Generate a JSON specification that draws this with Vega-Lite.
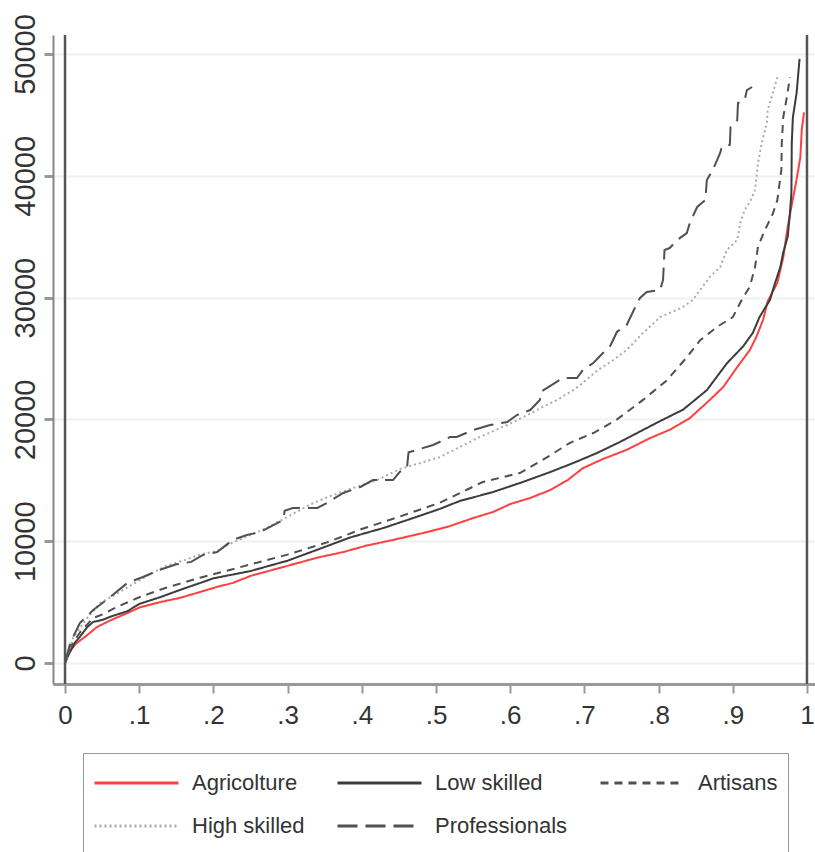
{
  "$schema": "https://vega.github.io/schema/vega-lite/v6.json",
  "autosize": {"type": "none"},
  "padding": {"left": 53, "top": 35, "right": 0, "bottom": 168},
  "width": 762,
  "height": 649,
  "background": "white",
  "config": {
    "view": {"stroke": null},
    "font": "Liberation Sans"
  },
  "datasets": {
    "curves": [
      {"series": "Agricolture", "q": 0, "wage": 0},
      {"series": "Agricolture", "q": 0.004, "wage": 800},
      {"series": "Agricolture", "q": 0.015, "wage": 1600},
      {"series": "Agricolture", "q": 0.03, "wage": 2300},
      {"series": "Agricolture", "q": 0.043, "wage": 2950},
      {"series": "Agricolture", "q": 0.061, "wage": 3500},
      {"series": "Agricolture", "q": 0.084, "wage": 4100},
      {"series": "Agricolture", "q": 0.1, "wage": 4550},
      {"series": "Agricolture", "q": 0.128, "wage": 5000},
      {"series": "Agricolture", "q": 0.155, "wage": 5350},
      {"series": "Agricolture", "q": 0.182, "wage": 5830},
      {"series": "Agricolture", "q": 0.205, "wage": 6250},
      {"series": "Agricolture", "q": 0.226, "wage": 6570},
      {"series": "Agricolture", "q": 0.25, "wage": 7150},
      {"series": "Agricolture", "q": 0.294, "wage": 7880},
      {"series": "Agricolture", "q": 0.34, "wage": 8650},
      {"series": "Agricolture", "q": 0.375, "wage": 9110},
      {"series": "Agricolture", "q": 0.407, "wage": 9650},
      {"series": "Agricolture", "q": 0.442, "wage": 10100},
      {"series": "Agricolture", "q": 0.488, "wage": 10750},
      {"series": "Agricolture", "q": 0.515, "wage": 11170},
      {"series": "Agricolture", "q": 0.55, "wage": 11900},
      {"series": "Agricolture", "q": 0.577, "wage": 12400},
      {"series": "Agricolture", "q": 0.6, "wage": 13050},
      {"series": "Agricolture", "q": 0.627, "wage": 13550},
      {"series": "Agricolture", "q": 0.654, "wage": 14200},
      {"series": "Agricolture", "q": 0.677, "wage": 15000},
      {"series": "Agricolture", "q": 0.698, "wage": 16000},
      {"series": "Agricolture", "q": 0.725, "wage": 16750},
      {"series": "Agricolture", "q": 0.757, "wage": 17500},
      {"series": "Agricolture", "q": 0.788, "wage": 18450},
      {"series": "Agricolture", "q": 0.815, "wage": 19150},
      {"series": "Agricolture", "q": 0.842, "wage": 20100},
      {"series": "Agricolture", "q": 0.869, "wage": 21600},
      {"series": "Agricolture", "q": 0.887, "wage": 22650},
      {"series": "Agricolture", "q": 0.906, "wage": 24300},
      {"series": "Agricolture", "q": 0.923, "wage": 25700},
      {"series": "Agricolture", "q": 0.932, "wage": 26800},
      {"series": "Agricolture", "q": 0.941, "wage": 28200},
      {"series": "Agricolture", "q": 0.947, "wage": 29700},
      {"series": "Agricolture", "q": 0.96, "wage": 31200},
      {"series": "Agricolture", "q": 0.968, "wage": 33300},
      {"series": "Agricolture", "q": 0.974, "wage": 35800},
      {"series": "Agricolture", "q": 0.98, "wage": 37800},
      {"series": "Agricolture", "q": 0.986, "wage": 39700},
      {"series": "Agricolture", "q": 0.991, "wage": 41500},
      {"series": "Agricolture", "q": 0.993, "wage": 43800},
      {"series": "Agricolture", "q": 0.996, "wage": 45200},

      {"series": "Low skilled", "q": 0, "wage": 0},
      {"series": "Low skilled", "q": 0.005, "wage": 700},
      {"series": "Low skilled", "q": 0.013, "wage": 1650},
      {"series": "Low skilled", "q": 0.02, "wage": 2150},
      {"series": "Low skilled", "q": 0.03, "wage": 2950},
      {"series": "Low skilled", "q": 0.038, "wage": 3370},
      {"series": "Low skilled", "q": 0.051, "wage": 3550},
      {"series": "Low skilled", "q": 0.061, "wage": 3800},
      {"series": "Low skilled", "q": 0.084, "wage": 4250},
      {"series": "Low skilled", "q": 0.1, "wage": 4850},
      {"series": "Low skilled", "q": 0.128, "wage": 5400},
      {"series": "Low skilled", "q": 0.155, "wage": 6000},
      {"series": "Low skilled", "q": 0.2, "wage": 6950},
      {"series": "Low skilled", "q": 0.25, "wage": 7550},
      {"series": "Low skilled", "q": 0.3, "wage": 8400},
      {"series": "Low skilled", "q": 0.34, "wage": 9300},
      {"series": "Low skilled", "q": 0.384, "wage": 10300},
      {"series": "Low skilled", "q": 0.43, "wage": 11100},
      {"series": "Low skilled", "q": 0.474, "wage": 12000},
      {"series": "Low skilled", "q": 0.505, "wage": 12650},
      {"series": "Low skilled", "q": 0.532, "wage": 13300},
      {"series": "Low skilled", "q": 0.577, "wage": 14040},
      {"series": "Low skilled", "q": 0.617, "wage": 14860},
      {"series": "Low skilled", "q": 0.654, "wage": 15680},
      {"series": "Low skilled", "q": 0.685, "wage": 16420},
      {"series": "Low skilled", "q": 0.717, "wage": 17240},
      {"series": "Low skilled", "q": 0.748, "wage": 18150},
      {"series": "Low skilled", "q": 0.771, "wage": 18880},
      {"series": "Low skilled", "q": 0.8, "wage": 19800},
      {"series": "Low skilled", "q": 0.833, "wage": 20800},
      {"series": "Low skilled", "q": 0.865, "wage": 22400},
      {"series": "Low skilled", "q": 0.892, "wage": 24600},
      {"series": "Low skilled", "q": 0.914, "wage": 26000},
      {"series": "Low skilled", "q": 0.927, "wage": 27100},
      {"series": "Low skilled", "q": 0.936, "wage": 28400},
      {"series": "Low skilled", "q": 0.95, "wage": 29800},
      {"series": "Low skilled", "q": 0.957, "wage": 31200},
      {"series": "Low skilled", "q": 0.964, "wage": 32500},
      {"series": "Low skilled", "q": 0.968, "wage": 33700},
      {"series": "Low skilled", "q": 0.974, "wage": 35000},
      {"series": "Low skilled", "q": 0.977, "wage": 36900},
      {"series": "Low skilled", "q": 0.979, "wage": 38600},
      {"series": "Low skilled", "q": 0.9795, "wage": 42700},
      {"series": "Low skilled", "q": 0.981, "wage": 44800},
      {"series": "Low skilled", "q": 0.986, "wage": 46800},
      {"series": "Low skilled", "q": 0.99, "wage": 49600},

      {"series": "Artisans", "q": 0, "wage": 0},
      {"series": "Artisans", "q": 0.007, "wage": 1300},
      {"series": "Artisans", "q": 0.02, "wage": 2500},
      {"series": "Artisans", "q": 0.038, "wage": 3700},
      {"series": "Artisans", "q": 0.051, "wage": 4000},
      {"series": "Artisans", "q": 0.07, "wage": 4600},
      {"series": "Artisans", "q": 0.1, "wage": 5400},
      {"series": "Artisans", "q": 0.137, "wage": 6200},
      {"series": "Artisans", "q": 0.182, "wage": 7000},
      {"series": "Artisans", "q": 0.226, "wage": 7700},
      {"series": "Artisans", "q": 0.25, "wage": 8100},
      {"series": "Artisans", "q": 0.3, "wage": 8900},
      {"series": "Artisans", "q": 0.353, "wage": 9900},
      {"series": "Artisans", "q": 0.4, "wage": 11000},
      {"series": "Artisans", "q": 0.45, "wage": 12000},
      {"series": "Artisans", "q": 0.505, "wage": 13150},
      {"series": "Artisans", "q": 0.563, "wage": 14860},
      {"series": "Artisans", "q": 0.613, "wage": 15600},
      {"series": "Artisans", "q": 0.65, "wage": 16900},
      {"series": "Artisans", "q": 0.68, "wage": 18060},
      {"series": "Artisans", "q": 0.712, "wage": 18880},
      {"series": "Artisans", "q": 0.744, "wage": 20000},
      {"series": "Artisans", "q": 0.779, "wage": 21600},
      {"series": "Artisans", "q": 0.811, "wage": 23200},
      {"series": "Artisans", "q": 0.838, "wage": 25100},
      {"series": "Artisans", "q": 0.856, "wage": 26500},
      {"series": "Artisans", "q": 0.879, "wage": 27600},
      {"series": "Artisans", "q": 0.9, "wage": 28400},
      {"series": "Artisans", "q": 0.912, "wage": 29800},
      {"series": "Artisans", "q": 0.923, "wage": 30900},
      {"series": "Artisans", "q": 0.93, "wage": 32500},
      {"series": "Artisans", "q": 0.934, "wage": 34200},
      {"series": "Artisans", "q": 0.943, "wage": 35500},
      {"series": "Artisans", "q": 0.954, "wage": 36900},
      {"series": "Artisans", "q": 0.96, "wage": 38000},
      {"series": "Artisans", "q": 0.9655, "wage": 40500},
      {"series": "Artisans", "q": 0.966, "wage": 42700},
      {"series": "Artisans", "q": 0.968, "wage": 44800},
      {"series": "Artisans", "q": 0.973, "wage": 46500},
      {"series": "Artisans", "q": 0.977, "wage": 48100},

      {"series": "High skilled", "q": 0, "wage": 0},
      {"series": "High skilled", "q": 0.011, "wage": 2100},
      {"series": "High skilled", "q": 0.03, "wage": 3700},
      {"series": "High skilled", "q": 0.047, "wage": 4900},
      {"series": "High skilled", "q": 0.07, "wage": 5700},
      {"series": "High skilled", "q": 0.092, "wage": 6500},
      {"series": "High skilled", "q": 0.115, "wage": 7300},
      {"series": "High skilled", "q": 0.137, "wage": 8000},
      {"series": "High skilled", "q": 0.159, "wage": 8400},
      {"series": "High skilled", "q": 0.182, "wage": 8900},
      {"series": "High skilled", "q": 0.205, "wage": 9200},
      {"series": "High skilled", "q": 0.226, "wage": 9900},
      {"series": "High skilled", "q": 0.25, "wage": 10500},
      {"series": "High skilled", "q": 0.272, "wage": 11100},
      {"series": "High skilled", "q": 0.294, "wage": 11800},
      {"series": "High skilled", "q": 0.33, "wage": 13000},
      {"series": "High skilled", "q": 0.353, "wage": 13600},
      {"series": "High skilled", "q": 0.38, "wage": 14200},
      {"series": "High skilled", "q": 0.42, "wage": 15000},
      {"series": "High skilled", "q": 0.45, "wage": 15900},
      {"series": "High skilled", "q": 0.47, "wage": 16260},
      {"series": "High skilled", "q": 0.505, "wage": 16900},
      {"series": "High skilled", "q": 0.532, "wage": 17730},
      {"series": "High skilled", "q": 0.559, "wage": 18560},
      {"series": "High skilled", "q": 0.596, "wage": 19540},
      {"series": "High skilled", "q": 0.623, "wage": 20360},
      {"series": "High skilled", "q": 0.644, "wage": 21020},
      {"series": "High skilled", "q": 0.663, "wage": 21590},
      {"series": "High skilled", "q": 0.685, "wage": 22410},
      {"series": "High skilled", "q": 0.698, "wage": 23000},
      {"series": "High skilled", "q": 0.717, "wage": 24000},
      {"series": "High skilled", "q": 0.739, "wage": 24880},
      {"series": "High skilled", "q": 0.757, "wage": 25700},
      {"series": "High skilled", "q": 0.779, "wage": 27090},
      {"series": "High skilled", "q": 0.802, "wage": 28400},
      {"series": "High skilled", "q": 0.833, "wage": 29230},
      {"series": "High skilled", "q": 0.846, "wage": 29800},
      {"series": "High skilled", "q": 0.856, "wage": 30620},
      {"series": "High skilled", "q": 0.869, "wage": 31690},
      {"series": "High skilled", "q": 0.883, "wage": 32510},
      {"series": "High skilled", "q": 0.892, "wage": 33910},
      {"series": "High skilled", "q": 0.906, "wage": 34730},
      {"series": "High skilled", "q": 0.91, "wage": 36120},
      {"series": "High skilled", "q": 0.916, "wage": 37190},
      {"series": "High skilled", "q": 0.923, "wage": 37850},
      {"series": "High skilled", "q": 0.93, "wage": 38830},
      {"series": "High skilled", "q": 0.934, "wage": 41050},
      {"series": "High skilled", "q": 0.939, "wage": 42690},
      {"series": "High skilled", "q": 0.946, "wage": 44330},
      {"series": "High skilled", "q": 0.947, "wage": 45400},
      {"series": "High skilled", "q": 0.954, "wage": 46800},
      {"series": "High skilled", "q": 0.961, "wage": 48270},

      {"series": "Professionals", "q": 0, "wage": 0},
      {"series": "Professionals", "q": 0.007, "wage": 1640},
      {"series": "Professionals", "q": 0.02, "wage": 3280},
      {"series": "Professionals", "q": 0.038, "wage": 4350},
      {"series": "Professionals", "q": 0.061, "wage": 5420},
      {"series": "Professionals", "q": 0.084, "wage": 6570},
      {"series": "Professionals", "q": 0.105, "wage": 7060},
      {"series": "Professionals", "q": 0.13, "wage": 7700},
      {"series": "Professionals", "q": 0.15, "wage": 8100},
      {"series": "Professionals", "q": 0.17, "wage": 8300},
      {"series": "Professionals", "q": 0.186, "wage": 8870},
      {"series": "Professionals", "q": 0.205, "wage": 9110},
      {"series": "Professionals", "q": 0.226, "wage": 10100},
      {"series": "Professionals", "q": 0.245, "wage": 10510},
      {"series": "Professionals", "q": 0.263, "wage": 10750},
      {"series": "Professionals", "q": 0.294, "wage": 11740},
      {"series": "Professionals", "q": 0.296, "wage": 12500},
      {"series": "Professionals", "q": 0.307, "wage": 12730},
      {"series": "Professionals", "q": 0.34, "wage": 12730},
      {"series": "Professionals", "q": 0.353, "wage": 13140},
      {"series": "Professionals", "q": 0.375, "wage": 13960},
      {"series": "Professionals", "q": 0.398, "wage": 14450},
      {"series": "Professionals", "q": 0.415, "wage": 15020},
      {"series": "Professionals", "q": 0.442, "wage": 15020},
      {"series": "Professionals", "q": 0.451, "wage": 15680},
      {"series": "Professionals", "q": 0.461, "wage": 16090},
      {"series": "Professionals", "q": 0.463, "wage": 17300},
      {"series": "Professionals", "q": 0.474, "wage": 17490},
      {"series": "Professionals", "q": 0.496, "wage": 17900},
      {"series": "Professionals", "q": 0.519, "wage": 18550},
      {"series": "Professionals", "q": 0.528, "wage": 18560},
      {"series": "Professionals", "q": 0.55, "wage": 19130},
      {"series": "Professionals", "q": 0.573, "wage": 19540},
      {"series": "Professionals", "q": 0.596, "wage": 19790},
      {"series": "Professionals", "q": 0.609, "wage": 20360},
      {"series": "Professionals", "q": 0.627, "wage": 20770},
      {"series": "Professionals", "q": 0.64, "wage": 21590},
      {"series": "Professionals", "q": 0.642, "wage": 22300},
      {"series": "Professionals", "q": 0.654, "wage": 22750},
      {"series": "Professionals", "q": 0.671, "wage": 23400},
      {"series": "Professionals", "q": 0.69, "wage": 23400},
      {"series": "Professionals", "q": 0.698, "wage": 24060},
      {"series": "Professionals", "q": 0.712, "wage": 24630},
      {"series": "Professionals", "q": 0.725, "wage": 25450},
      {"series": "Professionals", "q": 0.734, "wage": 25940},
      {"series": "Professionals", "q": 0.744, "wage": 27200},
      {"series": "Professionals", "q": 0.757, "wage": 27750},
      {"series": "Professionals", "q": 0.766, "wage": 28900},
      {"series": "Professionals", "q": 0.771, "wage": 29560},
      {"series": "Professionals", "q": 0.775, "wage": 29970},
      {"series": "Professionals", "q": 0.784, "wage": 30460},
      {"series": "Professionals", "q": 0.802, "wage": 30620},
      {"series": "Professionals", "q": 0.806, "wage": 31450},
      {"series": "Professionals", "q": 0.808, "wage": 33910},
      {"series": "Professionals", "q": 0.815, "wage": 34070},
      {"series": "Professionals", "q": 0.825, "wage": 34730},
      {"series": "Professionals", "q": 0.838, "wage": 35300},
      {"series": "Professionals", "q": 0.842, "wage": 36120},
      {"series": "Professionals", "q": 0.852, "wage": 37440},
      {"series": "Professionals", "q": 0.863, "wage": 38010},
      {"series": "Professionals", "q": 0.865, "wage": 39650},
      {"series": "Professionals", "q": 0.873, "wage": 40480},
      {"series": "Professionals", "q": 0.883, "wage": 41870},
      {"series": "Professionals", "q": 0.885, "wage": 42360},
      {"series": "Professionals", "q": 0.896, "wage": 42530},
      {"series": "Professionals", "q": 0.897, "wage": 44010},
      {"series": "Professionals", "q": 0.906, "wage": 44580},
      {"series": "Professionals", "q": 0.907, "wage": 45980},
      {"series": "Professionals", "q": 0.916, "wage": 46220},
      {"series": "Professionals", "q": 0.919, "wage": 47040},
      {"series": "Professionals", "q": 0.926, "wage": 47290}
    ],
    "edges": [{"edge": 0}, {"edge": 1}]
  },
  "layer": [
    {
      "data": {"name": "edges"},
      "mark": {"type": "rule", "color": "#555555", "strokeWidth": 2.5},
      "encoding": {
        "x": {"field": "edge", "type": "quantitative", "scale": {"domain": [-0.0162, 1.0108], "nice": false, "zero": false}}
      }
    },
    {
      "data": {"name": "curves"},
      "mark": {"type": "line", "strokeWidth": 2, "clip": true},
      "encoding": {
        "x": {
          "field": "q", "type": "quantitative",
          "scale": {"domain": [-0.0162, 1.0108], "nice": false, "zero": false},
          "axis": {
            "title": null,
            "values": [0, 0.1, 0.2, 0.3, 0.4, 0.5, 0.6, 0.7, 0.8, 0.9, 1],
            "labelExpr": "datum.value == 0 ? '0' : datum.value == 1 ? '1' : replace(format(datum.value, '.1f'), '0.', '.')",
            "grid": false,
            "domainColor": "#999999",
            "domainWidth": 3,
            "tickColor": "#999999",
            "tickWidth": 2,
            "tickSize": 9,
            "labelFont": "Liberation Sans",
            "labelFontSize": 26,
            "labelColor": "#333333",
            "labelPadding": 9,
            "labelFlush": false,
            "labelOverlap": false
          }
        },
        "y": {
          "field": "wage", "type": "quantitative",
          "scale": {"domain": [-1724, 51560], "nice": false, "zero": false},
          "axis": {
            "title": null,
            "values": [0, 10000, 20000, 30000, 40000, 50000],
            "format": "d",
            "grid": true,
            "gridColor": "#edf2f2",
            "gridWidth": 2,
            "domainColor": "#888888",
            "domainWidth": 2,
            "tickColor": "#999999",
            "tickWidth": 3,
            "tickSize": 9,
            "labelAngle": -90,
            "labelAlign": "center",
            "labelBaseline": "alphabetic",
            "labelFont": "Liberation Sans",
            "labelFontSize": 29,
            "labelColor": "#333333",
            "labelPadding": 10,
            "labelFlush": false,
            "labelOverlap": false
          }
        },
        "color": {
          "field": "series", "type": "nominal",
          "scale": {
            "domain": ["Agricolture", "Low skilled", "Artisans", "High skilled", "Professionals"],
            "range": ["#ff4040", "#3c3c3c", "#505050", "#aaaaaa", "#505050"]
          },
          "legend": {
            "title": null,
            "orient": "none",
            "legendX": 30,
            "legendY": 718,
            "direction": "horizontal",
            "columns": 3,
            "symbolType": "stroke",
            "symbolSize": 7056,
            "symbolStrokeWidth": 3,
            "clipHeight": 40,
            "rowPadding": 3,
            "columnPadding": 31,
            "padding": 10,
            "labelOffset": 12,
            "labelFont": "Liberation Sans",
            "labelFontSize": 22,
            "labelColor": "#333333",
            "strokeColor": "#999999",
            "fillColor": "white"
          }
        },
        "strokeDash": {
          "field": "series", "type": "nominal",
          "scale": {
            "domain": ["Agricolture", "Low skilled", "Artisans", "High skilled", "Professionals"],
            "range": [[1, 0], [1, 0], [8, 6], [2, 3], [20, 8]]
          },
          "legend": {
            "title": null,
            "orient": "none",
            "legendX": 30,
            "legendY": 718,
            "direction": "horizontal",
            "columns": 3,
            "symbolType": "stroke",
            "symbolSize": 7056,
            "symbolStrokeWidth": 3,
            "clipHeight": 40,
            "rowPadding": 3,
            "columnPadding": 31,
            "padding": 10,
            "labelOffset": 12,
            "labelFont": "Liberation Sans",
            "labelFontSize": 22,
            "labelColor": "#333333",
            "strokeColor": "#999999",
            "fillColor": "white"
          }
        }
      }
    }
  ]
}
